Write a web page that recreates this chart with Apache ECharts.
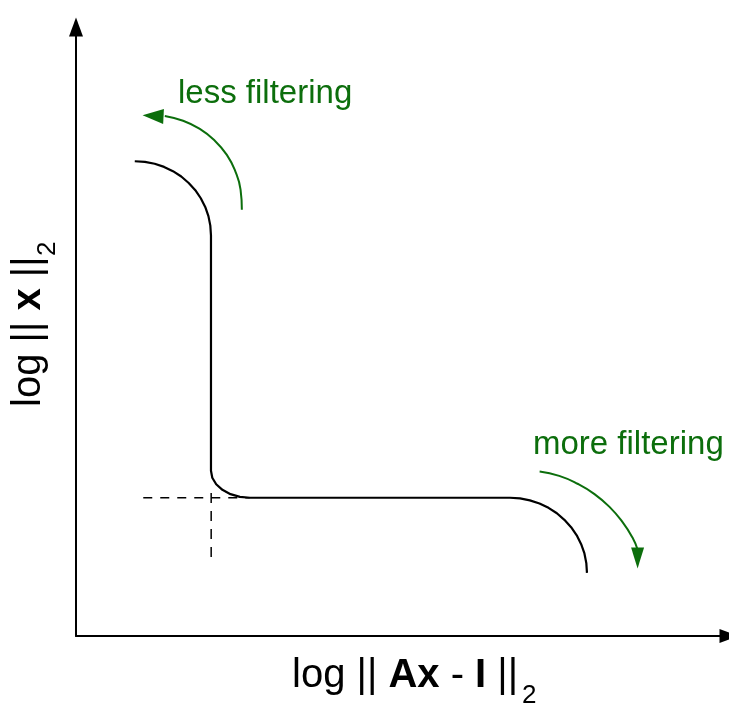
<!DOCTYPE html>
<html>
<head>
<meta charset="utf-8">
<script src="https://cdn.jsdelivr.net/npm/echarts@6/dist/echarts.min.js"></script>
<style>
  html, body { margin: 0; padding: 0; background: #fff; }
  #chart { width: 729px; height: 704px; }
</style>
</head>
<body>
<div id="chart"></div>
<script>
// L-curve sketch: log solution norm against log residual norm (arbitrary units, 0..10)
const curveResidual = [
  0.900, 1.055, 1.205, 1.349, 1.485, 1.612, 1.726, 1.827, 1.911, 1.979, 2.028, 2.057, 2.067,
  2.067, 2.087, 2.147, 2.242, 2.366, 2.510, 2.665,
  6.646, 6.800, 6.951, 7.098, 7.236, 7.364, 7.479, 7.582, 7.668, 7.736, 7.786, 7.815, 7.825
];
const curveSolution = [
  7.796, 7.786, 7.755, 7.703, 7.633, 7.545, 7.439, 7.320, 7.188, 7.045, 6.895, 6.738, 6.579,
  2.714, 2.599, 2.492, 2.400, 2.329, 2.285, 2.270,
  2.270, 2.259, 2.227, 2.176, 2.105, 2.015, 1.908, 1.787, 1.653, 1.508, 1.355, 1.197, 1.036
];

// dashed guides marking the corner of the curve
const cornerGuideH = [[1.03, 2.27], [2.66, 2.27]];
const cornerGuideV = [[2.07, 2.35], [2.07, 1.28]];

// curved arrows: decreasing / increasing regularisation
const lessArrowX = [2.54, 2.52, 2.44, 2.31, 2.12, 1.89, 1.64, 1.36];
const lessArrowY = [7.00, 7.33, 7.63, 7.90, 8.14, 8.33, 8.46, 8.54];
const lessArrowHead = [1.18, 8.54];
const moreArrowX = [7.10, 7.40, 7.68, 7.94, 8.17, 8.37, 8.52, 8.60];
const moreArrowY = [2.70, 2.63, 2.50, 2.33, 2.12, 1.87, 1.62, 1.42];
const moreArrowHead = [8.60, 1.28];

const zip = (xs, ys) => xs.map((x, i) => [x, ys[i]]);

const GREEN = '#0c6e0c';
const FONT = '"Liberation Sans", Arial, sans-serif';

const chart = echarts.init(document.getElementById('chart'), null, { renderer: 'canvas' });

const axisLineStyle = {
  show: true,
  symbol: ['none', 'triangle'],
  symbolSize: [14, 19],
  lineStyle: { color: '#000', width: 2 }
};

chart.setOption({
  animation: false,
  backgroundColor: '#fff',
  grid: { left: 76, right: 0, top: 27, bottom: 68 },
  xAxis: {
    type: 'value', min: 0, max: 10,
    axisLine: axisLineStyle,
    axisTick: { show: false }, axisLabel: { show: false }, splitLine: { show: false }
  },
  yAxis: {
    type: 'value', min: 0, max: 10,
    axisLine: axisLineStyle,
    axisTick: { show: false }, axisLabel: { show: false }, splitLine: { show: false }
  },
  series: [
    {
      type: 'line', data: cornerGuideH, showSymbol: false, silent: true,
      lineStyle: { color: '#000', width: 1.5, type: [9, 8] }
    },
    {
      type: 'line', data: cornerGuideV, showSymbol: false, silent: true,
      lineStyle: { color: '#000', width: 1.5, type: [10, 8] }
    },
    {
      type: 'line', data: zip(curveResidual, curveSolution), showSymbol: false, silent: true,
      lineStyle: { color: '#000', width: 2.2, join: 'round' }
    },
    {
      type: 'line', data: zip(lessArrowX, lessArrowY), smooth: 0.5, showSymbol: false, silent: true,
      lineStyle: { color: GREEN, width: 2 }
    },
    {
      type: 'line', data: zip(moreArrowX, moreArrowY), smooth: 0.5, showSymbol: false, silent: true,
      lineStyle: { color: GREEN, width: 2 }
    },
    {
      type: 'scatter', silent: true, symbol: 'triangle', symbolSize: [15, 21], symbolRotate: 87,
      itemStyle: { color: GREEN, opacity: 1 }, data: [lessArrowHead]
    },
    {
      type: 'scatter', silent: true, symbol: 'triangle', symbolSize: [13, 21], symbolRotate: 180,
      itemStyle: { color: GREEN, opacity: 1 }, data: [moreArrowHead]
    }
  ],
  graphic: [
    {
      type: 'text', x: 178, y: 94.3, silent: true,
      style: { text: 'less filtering', fontSize: 33, fontFamily: FONT, fill: GREEN, align: 'left', verticalAlign: 'middle' }
    },
    {
      type: 'text', x: 533, y: 445.3, silent: true,
      style: { text: 'more filtering', fontSize: 33, fontFamily: FONT, fill: GREEN, align: 'left', verticalAlign: 'middle' }
    },
    {
      type: 'text', x: 292, y: 676, silent: true,
      style: {
        text: '{n|log || }{b|Ax}{n| - }{b|I}{n| ||}',
        align: 'left', verticalAlign: 'middle', fill: '#000',
        rich: {
          n: { fontSize: 40, fontFamily: FONT, fill: '#000' },
          b: { fontSize: 40, fontFamily: FONT, fontWeight: 'bold', fill: '#000' }
        }
      }
    },
    {
      type: 'text', x: 522, y: 696, silent: true,
      style: { text: '2', fontSize: 26, fontFamily: FONT, fill: '#000', align: 'left', verticalAlign: 'middle' }
    },
    {
      type: 'text', x: 28.5, y: 407, rotation: Math.PI / 2, silent: true,
      style: {
        text: '{n|log || }{b|x}{n| ||}',
        align: 'left', verticalAlign: 'middle', fill: '#000',
        rich: {
          n: { fontSize: 40, fontFamily: FONT, fill: '#000' },
          b: { fontSize: 40, fontFamily: FONT, fontWeight: 'bold', fill: '#000' }
        }
      }
    },
    {
      type: 'text', x: 48, y: 256, rotation: Math.PI / 2, silent: true,
      style: { text: '2', fontSize: 26, fontFamily: FONT, fill: '#000', align: 'left', verticalAlign: 'middle' }
    }
  ]
});
</script>
</body>
</html>
